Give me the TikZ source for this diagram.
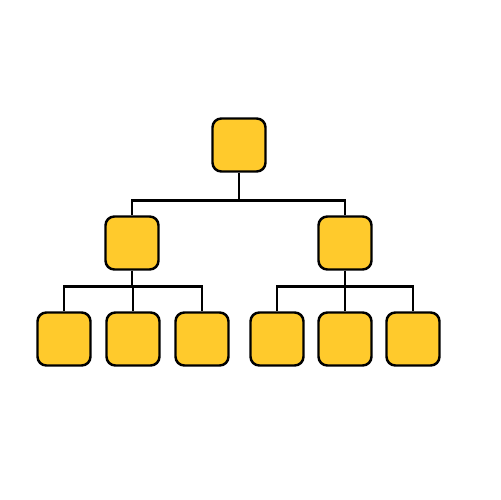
\documentclass[tikz,border=0pt]{standalone}
\usepackage{tikz}

\definecolor{boxyellow}{HTML}{FFCA2C}

\tikzset{
  orgbox/.style={draw=black,line width=1.4pt,fill=boxyellow,rounded corners=5pt,
    minimum width=1.06cm,minimum height=1.06cm,inner sep=0pt},
  wire/.style={draw=black,line width=1.4pt}
}

\begin{document}
\begin{tikzpicture}[x=0.02cm,y=-0.02cm]
\useasboundingbox (0,0) rectangle (500,500);

% Top level
\node[orgbox] (top) at (239,145) {};

% Middle level
\node[orgbox] (midL) at (132,243) {};
\node[orgbox] (midR) at (345,243) {};

% Bottom level
\foreach \n/\x in {a/64,b/133,c/202} {
    \node[orgbox] (botL\n) at (\x,339) {};
}
\foreach \n/\x in {a/277,b/345,c/413} {
    \node[orgbox] (botR\n) at (\x,339) {};
}

% Connectors from top
\draw[wire] (top.south) -- ++(0,28) -| (midL.north);
\draw[wire] (top.south) -- ++(0,28) -| (midR.north);

% Connectors from middle boxes
\foreach \n in {a,b,c} {
    \draw[wire] (midL.south) -- ++(0,16) -| (botL\n.north);
    \draw[wire] (midR.south) -- ++(0,16) -| (botR\n.north);
}
\end{tikzpicture}
\end{document}
